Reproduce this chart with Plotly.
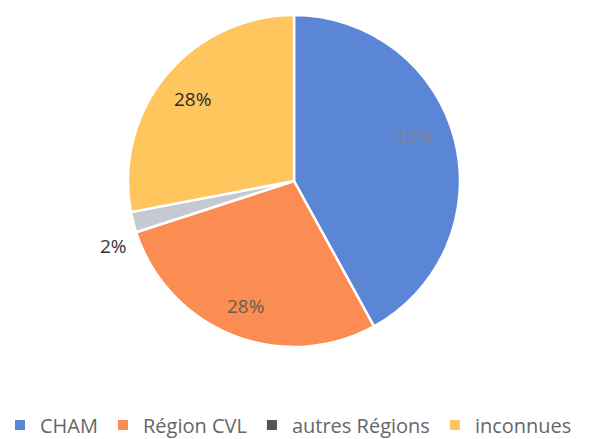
import math
import plotly.graph_objects as go

labels = ["CHAM", "Région CVL", "autres Régions", "inconnues"]
values = [42, 28, 2, 28]
slice_colors = ["#5B86D6", "#FB8C52", "#C5C9D1", "#FFC65E"]
legend_colors = ["#5B86D6", "#FB8C52", "#555555", "#FFC65E"]
text_colors = ["#7C84A0", "#6A5E55", "#333333", "#2B2B2B"]
# label placement (style): radial fraction and angular nudge (degrees)
label_radius = [0.77, 0.80, 1.15, 0.79]
label_nudge = [-7, 0, -5, 0]

W, H = 593, 439
cx, cy, r = 294, 181, 166

fig = go.Figure()
fig.add_trace(go.Pie(
    labels=labels,
    values=values,
    sort=False,
    direction="clockwise",
    rotation=0,
    marker=dict(colors=slice_colors, line=dict(color="white", width=2.5)),
    textinfo="none",
    domain=dict(x=[(cx - r) / W, (cx + r) / W], y=[1 - (cy + r) / H, 1 - (cy - r) / H]),
    showlegend=False,
    hoverinfo="label+percent",
))

# percentage labels placed at each slice's mid-angle
total = sum(values)
cum = 0
for v, col, fr, nd in zip(values, text_colors, label_radius, label_nudge):
    mid = (cum + v / 2) / total * 360 + nd
    cum += v
    a = math.radians(mid)
    px = cx + fr * r * math.sin(a)
    py = cy + 2 - fr * r * math.cos(a)
    fig.add_annotation(
        x=px / W, y=1 - py / H, xref="paper", yref="paper",
        text=f"{round(v / total * 100)}%", showarrow=False,
        font=dict(family="Open Sans", size=19, color=col),
        xanchor="center", yanchor="middle",
    )

# legend entries (native legend) via dummy markers
for lab, col in zip(labels, legend_colors):
    fig.add_trace(go.Scatter(
        x=[None], y=[None], mode="markers", name=lab,
        marker=dict(symbol="square", size=10, color=col),
        showlegend=True,
    ))

fig.update_layout(
    width=W, height=H,
    margin=dict(l=0, r=0, t=0, b=0, autoexpand=False),
    paper_bgcolor="white", plot_bgcolor="white",
    xaxis=dict(visible=False), yaxis=dict(visible=False),
    legend=dict(orientation="h", x=0, xanchor="left", y=1 - 425 / H, yanchor="middle",
                font=dict(family="Open Sans", size=20, color="#666666"),
                itemwidth=30, tracegroupgap=0),
)

fig.write_html("out.html", config={"displayModeBar": False},
               post_script="document.body.style.margin='0';")
